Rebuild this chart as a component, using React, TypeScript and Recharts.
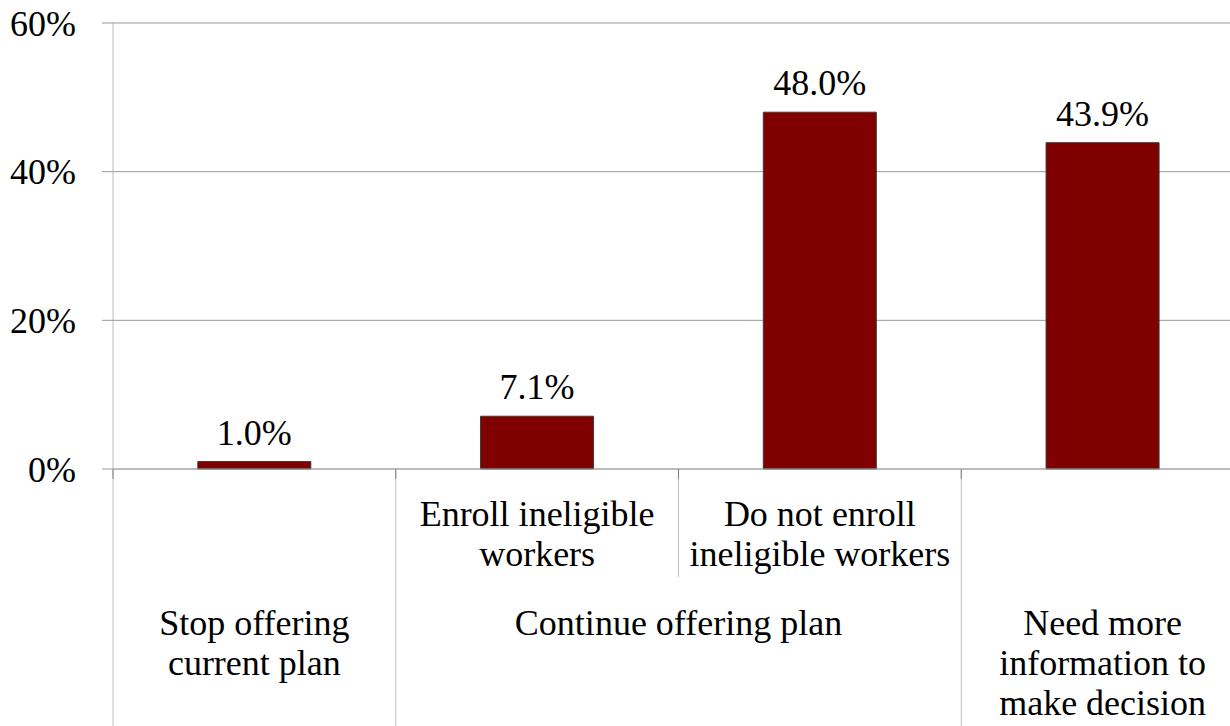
import { BarChart, Bar, XAxis, YAxis, CartesianGrid, LabelList } from "recharts";

const FONT = '"Liberation Serif", "Times New Roman", serif';

// one bar per decision category
const categories = ["stop", "enroll", "noEnroll", "moreInfo"];
const shares = [1.0, 7.1, 48.0, 43.9];

// inner level of the category axis (empty where the group label covers it)
const subLabels: string[][] = [
  [],
  ["Enroll ineligible", "workers"],
  ["Do not enroll", "ineligible workers"],
  [],
];

// outer level of the category axis
const groupLabels: string[][] = [
  ["Stop offering", "current plan"],
  ["Continue offering plan"],
  ["Need more", "information to", "make decision"],
];
const groupStarts = [0, 1, 3];
const groupSpans = [1, 2, 1];

const yTicks = [0, 20, 40, 60];

const data = categories.map((key, i) => ({ key, share: shares[i] }));

const lineText = (lines: string[], cx: number, top: number, step: number) =>
  lines.map((t, i) => (
    <text
      key={i}
      x={cx}
      y={top + i * step}
      textAnchor="middle"
      fill="#000"
      fontSize={36}
      fontFamily={FONT}
    >
      {t}
    </text>
  ));

const CategoryTick = (props: any) => {
  const { x, y, index, payload, width, visibleTicksCount } = props;
  const half =
    payload && payload.offset ? payload.offset : width / visibleTicksCount / 2;
  const left = x - half;
  const g = groupStarts.indexOf(index);
  const fullLeft = g >= 0;
  const isLast = index === categories.length - 1;

  return (
    <g>
      <line x1={left} y1={y} x2={left} y2={y + (fullLeft ? 300 : 108)} stroke="#c0c0c0" />
      <line x1={left} y1={y} x2={left} y2={y + 10} stroke="#808080" />
      {isLast && (
        <>
          <line x1={x + half} y1={y} x2={x + half} y2={y + 300} stroke="#c0c0c0" />
          <line x1={x + half} y1={y} x2={x + half} y2={y + 10} stroke="#808080" />
        </>
      )}
      {lineText(subLabels[index] || [], x, y + 57, 40)}
      {g >= 0 && lineText(groupLabels[g], left + groupSpans[g] * half, y + 166, 40)}
    </g>
  );
};

export default function App() {
  return (
    <div
      className="decision-chart"
      style={{
        position: "absolute",
        left: 0,
        top: 0,
        width: 1230,
        height: 726,
        overflow: "hidden",
        background: "#fff",
        fontFamily: FONT,
      }}
    >
      <style>{`.decision-chart, .decision-chart text, .decision-chart tspan { font-family: ${FONT} !important; }`}</style>
      <BarChart
        width={1250}
        height={726}
        data={data}
        margin={{ top: 23, right: 6, left: 0, bottom: 0 }}
        barCategoryGap="30%"
      >
        <CartesianGrid vertical={false} stroke="#999" />
        <XAxis
          dataKey="key"
          height={257}
          tickSize={0}
          tickMargin={0}
          tickLine={false}
          axisLine={{ stroke: "#aaa" }}
          interval={0}
          tick={<CategoryTick />}
        />
        <YAxis
          width={113}
          domain={[0, 60]}
          ticks={yTicks}
          tickSize={11}
          tickMargin={26}
          tickLine={{ stroke: "#999" }}
          axisLine={{ stroke: "#bbb" }}
          tickFormatter={(v: number) => `${v}%`}
          tick={{ fill: "#000", fontSize: 36, fontFamily: FONT }}
        />
        <Bar dataKey="share" fill="#800000" stroke="#3a3a3a" strokeWidth={1} isAnimationActive={false}>
          <LabelList
            dataKey="share"
            position="top"
            offset={17}
            formatter={(v: any) => `${Number(v).toFixed(1)}%`}
            fill="#000"
            fontSize={36}
            fontFamily={FONT}
          />
        </Bar>
      </BarChart>
    </div>
  );
}
